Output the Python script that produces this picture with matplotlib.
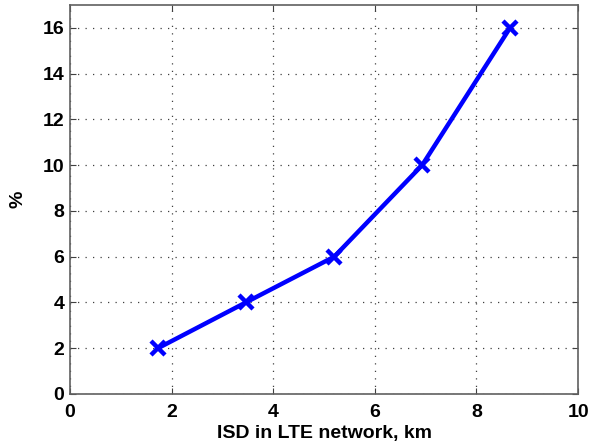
import matplotlib
matplotlib.use("Agg")
import matplotlib.pyplot as plt

# ISD values (km) and percentage
isd_km = [1.73, 3.46, 5.2, 6.93, 8.66]
percent = [2, 4, 6, 10, 16]
x_ticks = [0, 2, 4, 6, 8, 10]
y_ticks = [0, 2, 4, 6, 8, 10, 12, 14, 16]

plt.rcParams['font.family'] = ['Liberation Sans', 'DejaVu Sans']
plt.rcParams['font.weight'] = 'bold'

fig = plt.figure(figsize=(6.06, 4.47), dpi=100)
ax = fig.add_axes([0.1155, 0.1186, 0.8385, 0.8702])

ax.plot(isd_km, percent, color='#0000ff', linewidth=3.2, marker='x',
        markersize=10, markeredgewidth=3.2)

ax.set_xlim(0, 10)
ax.set_ylim(0, 17)
ax.set_xticks(x_ticks)
ax.set_yticks(y_ticks)
ax.grid(True, linestyle=(0, (1, 5)), color='#404040', linewidth=0.9)
ax.tick_params(direction='in', top=True, right=True, length=4, width=0.8,
               labelsize=14, colors='#404040', labelcolor='black')
ax.tick_params(axis='x', pad=7)
ax.tick_params(axis='y', pad=4)
for lbl in ax.get_xticklabels() + ax.get_yticklabels():
    lbl.set_fontweight('bold')
for s in ax.spines.values():
    s.set_color('#606060')
    s.set_linewidth(1.2)

ax.set_xlabel('ISD in LTE network, km', fontsize=14, fontweight='bold', labelpad=3)
ax.set_ylabel('%', fontsize=14, fontweight='bold', labelpad=12)

fig.savefig('out.png', dpi=100)
